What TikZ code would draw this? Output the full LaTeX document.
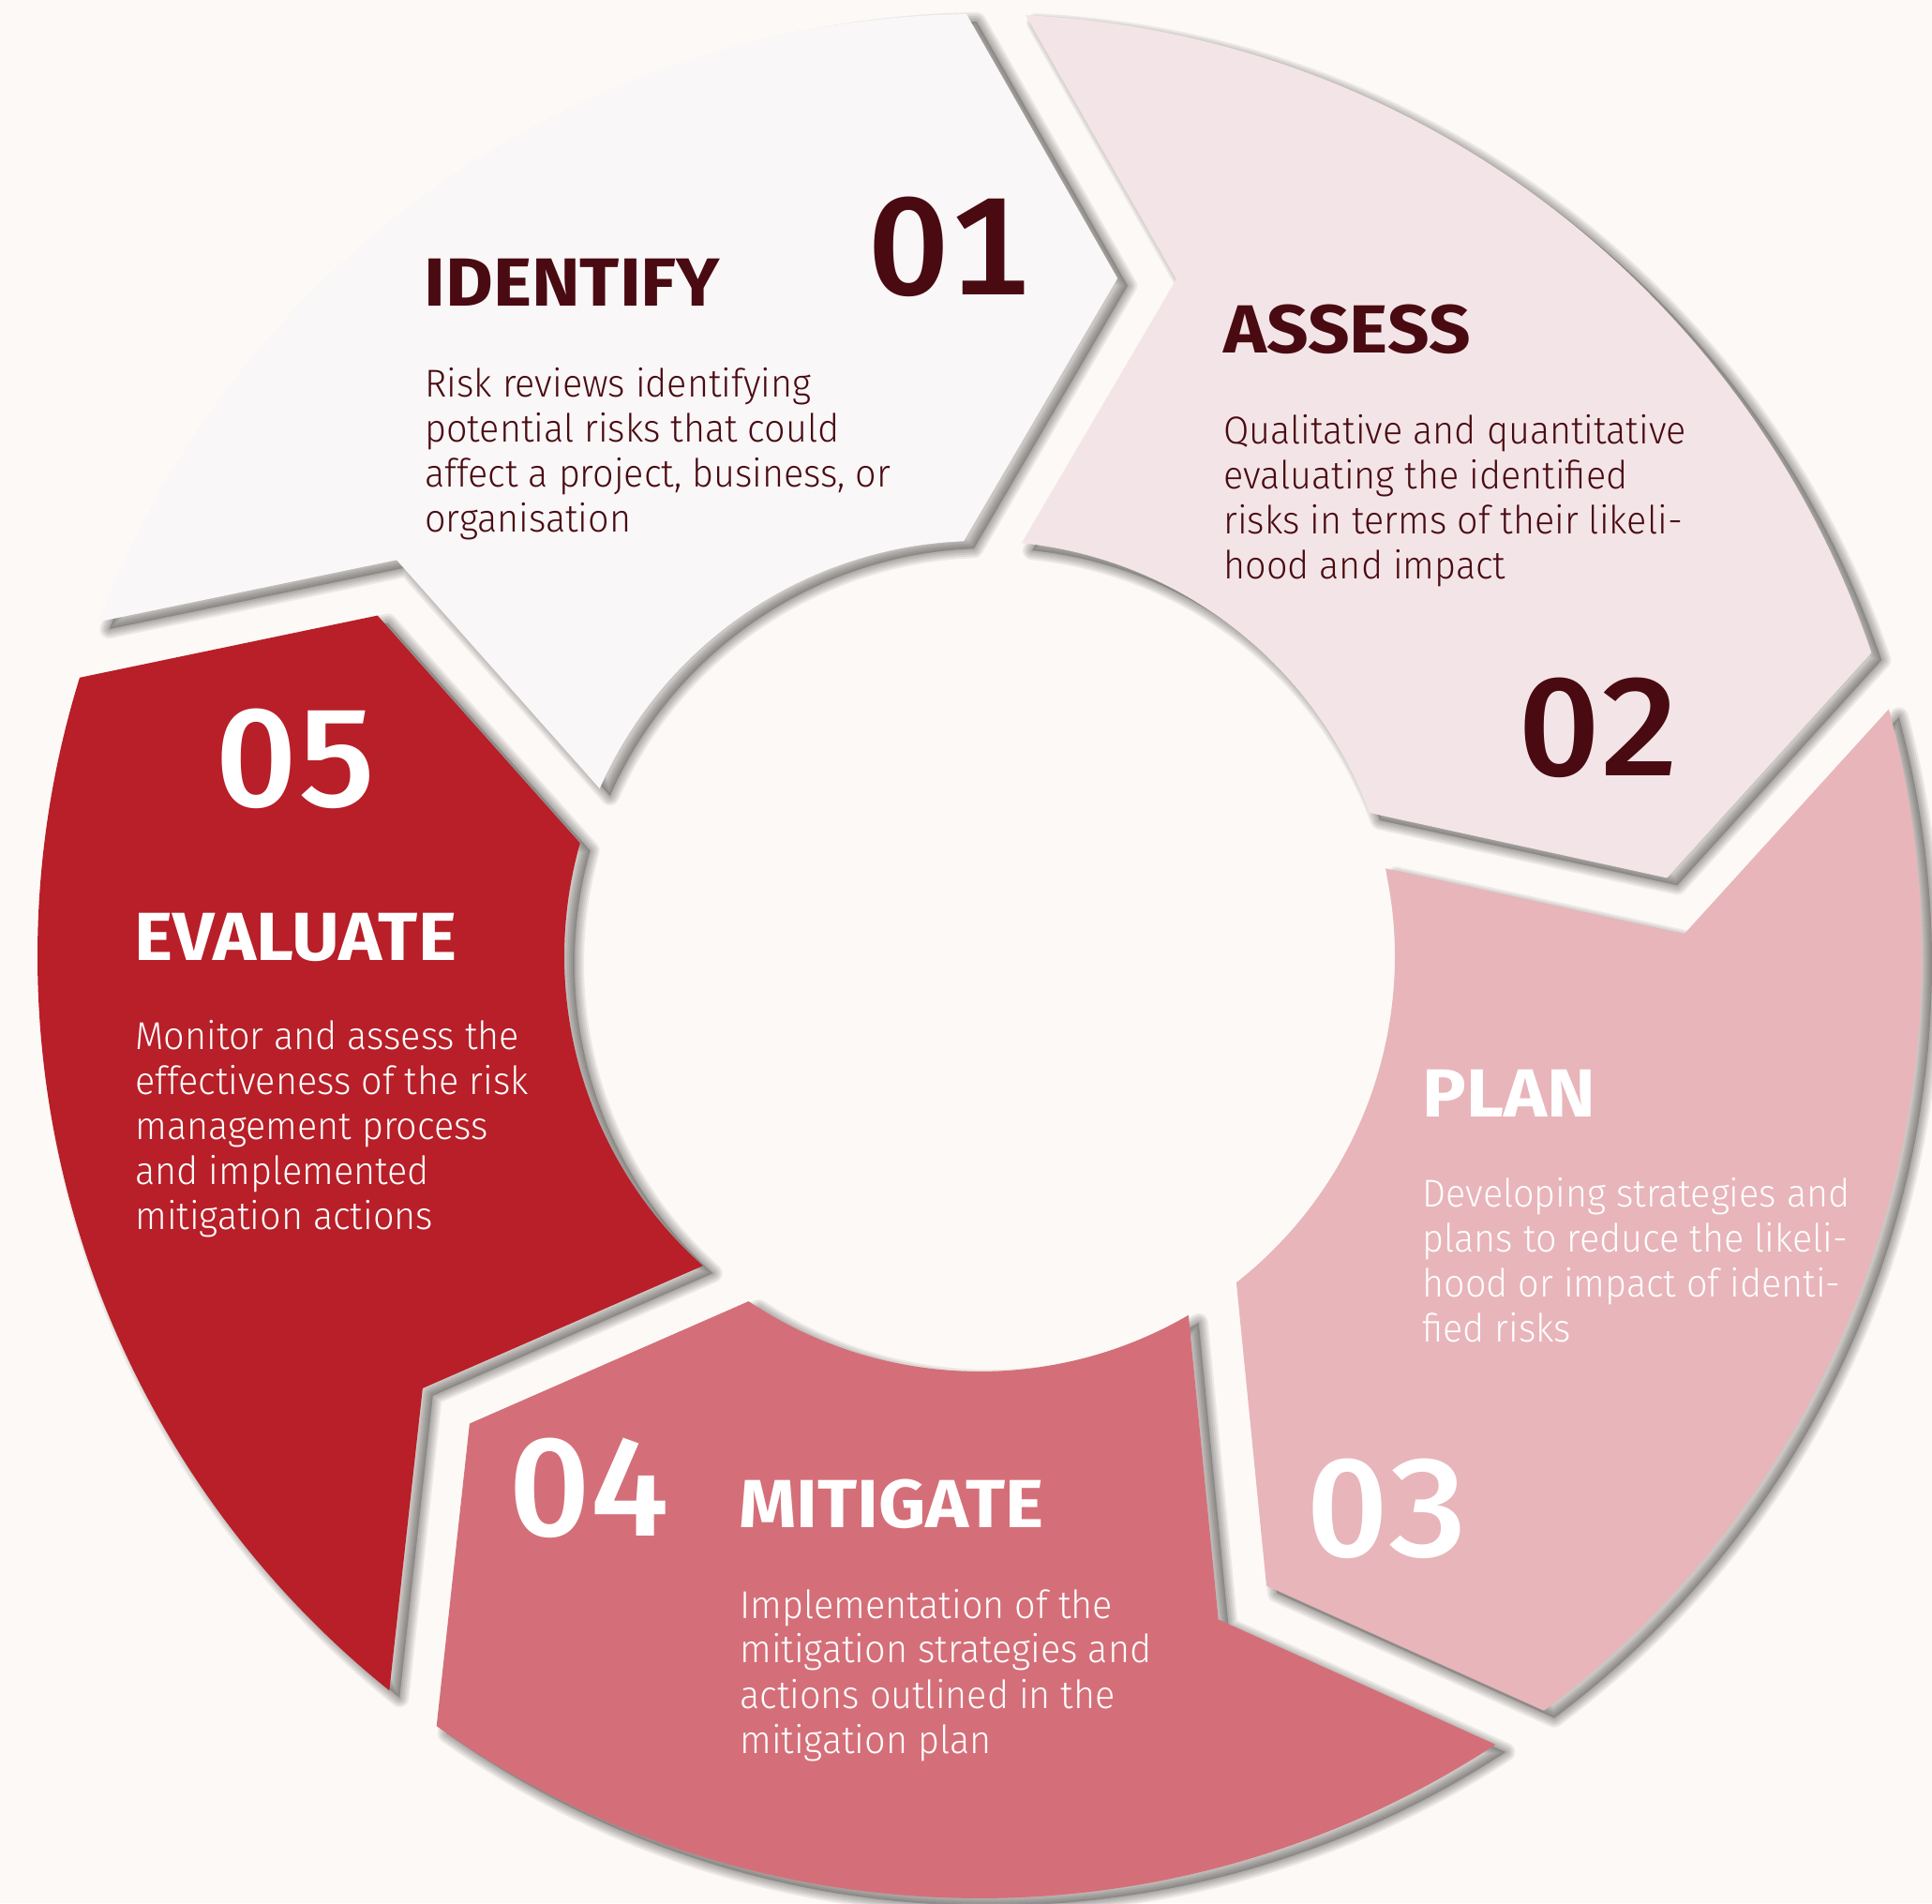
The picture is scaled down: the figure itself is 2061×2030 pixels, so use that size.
\documentclass[tikz,border=0pt]{standalone}
\usepackage{fontspec}
\setmainfont{Fira Sans}
\newfontfamily\bodyfont{Fira Sans Light}[FakeStretch=0.955]
\newfontfamily\headfont{Fira Sans Bold}[FakeStretch=1.075]
\newfontfamily\numfont{Fira Sans Medium}[Numbers=Monospaced, FakeStretch=1.04]
\definecolor{bgc}{HTML}{FDF9F6}
\definecolor{cA}{HTML}{F9F7F7}
\definecolor{cB}{HTML}{F3E5E7}
\definecolor{cC}{HTML}{E8B5BA}
\definecolor{cD}{HTML}{D46F79}
\definecolor{cE}{HTML}{B81F28}
\definecolor{darktxt}{HTML}{4A0A12}
\def\Ro{1005}
\def\Ri{443}
\newcommand\segpath[2]{(#2+1.5:\Ro) arc[start angle=#2+1.5, end angle=#1-0.6, radius=\Ro] -- (#1-12.9:738) -- (#1+0.8:\Ri) arc[start angle=#1+0.8, end angle=#2-1.5, radius=\Ri] -- (#2-11.9:752) -- cycle}
\newcommand\bodyblock[1]{\begin{tabular}[t]{@{}l@{}}#1\end{tabular}}
\tikzset{
  bodytxt/.style={anchor=base west, inner sep=0pt, font=\bodyfont\fontsize{20.7}{24}\selectfont},
  headtxt/.style={anchor=base west, inner sep=0pt, font=\headfont\fontsize{36.3}{40}\selectfont},
  numtxt/.style={anchor=base west, inner sep=0pt, font=\numfont\fontsize{74}{80}\selectfont},
}
\begin{document}
\begin{tikzpicture}[x=0.5pt,y=0.5pt]
\fill[bgc] (0,0) rectangle (2061,2030);
\useasboundingbox (0,0) rectangle (2061,2030);
\begin{scope}[shift={(1045,1010)}]
  \foreach \h/\t in {91.4/157.7, 19.4/85.7, -52.6/13.7, -124.6/-58.3, -196.6/-130.3}{
    \begin{scope}[shift={(11,-8)}]
      \fill[black, opacity=0.2] \segpath{\h}{\t};
      \foreach \w in {4,8,12,16,20}{
        \draw[black, opacity=0.065, line width=\w*0.5pt, line join=round] \segpath{\h}{\t};
      }
    \end{scope}
  }
  \fill[cA] \segpath{91.4}{157.7};
  \fill[cB] \segpath{19.4}{85.7};
  \fill[cC] \segpath{-52.6}{13.7};
  \fill[cD] \segpath{-124.6}{-58.3};
  \fill[cE] \segpath{-196.6}{-130.3};
\end{scope}
\begin{scope}[yshift=1015pt, y=-0.5pt]
  % 01 IDENTIFY
  \node[headtxt, text=darktxt] (h1) at (452,327) {IDENTIFY};
  \node[numtxt, text=darktxt] (n1) at (926,315) {01};
  \node[bodytxt, text=darktxt] (b1) at (453,424) {\bodyblock{Risk reviews identifying\\potential risks that could\\affect a project, business, or\\organisation}};
  % 02 ASSESS
  \node[headtxt, text=darktxt] (h2) at (1305,377) {ASSESS};
  \node[bodytxt, text=darktxt] (b2) at (1305,474) {\bodyblock{Qualitative and quantitative\\evaluating the identified\\risks in terms of their likeli-\\hood and impact}};
  \node[numtxt, text=darktxt] (n2) at (1620,828) {02};
  % 03 PLAN
  \node[headtxt, text=white] (h3) at (1517,1192) {PLAN};
  \node[bodytxt, text=white] (b3) at (1517,1288) {\bodyblock{Developing strategies and\\plans to reduce the likeli-\\hood or impact of identi-\\fied risks}};
  \node[numtxt, text=white] (n3) at (1394,1661) {03};
  % 04 MITIGATE
  \node[numtxt, text=white] (n4) at (543,1639) {04};
  \node[headtxt, text=white] (h4) at (788,1630) {MITIGATE};
  \node[bodytxt, text=white] (b4) at (789,1726) {\bodyblock{Implementation of the\\mitigation strategies and\\actions outlined in the\\mitigation plan}};
  % 05 EVALUATE
  \node[numtxt, text=white] (n5) at (230,861) {05};
  \node[headtxt, text=white] (h5) at (143,1025) {EVALUATE};
  \node[bodytxt, text=white] (b5) at (144,1120) {\bodyblock{Monitor and assess the\\effectiveness of the risk\\management process\\and implemented\\mitigation actions}};
\end{scope}
\end{tikzpicture}
\end{document}
